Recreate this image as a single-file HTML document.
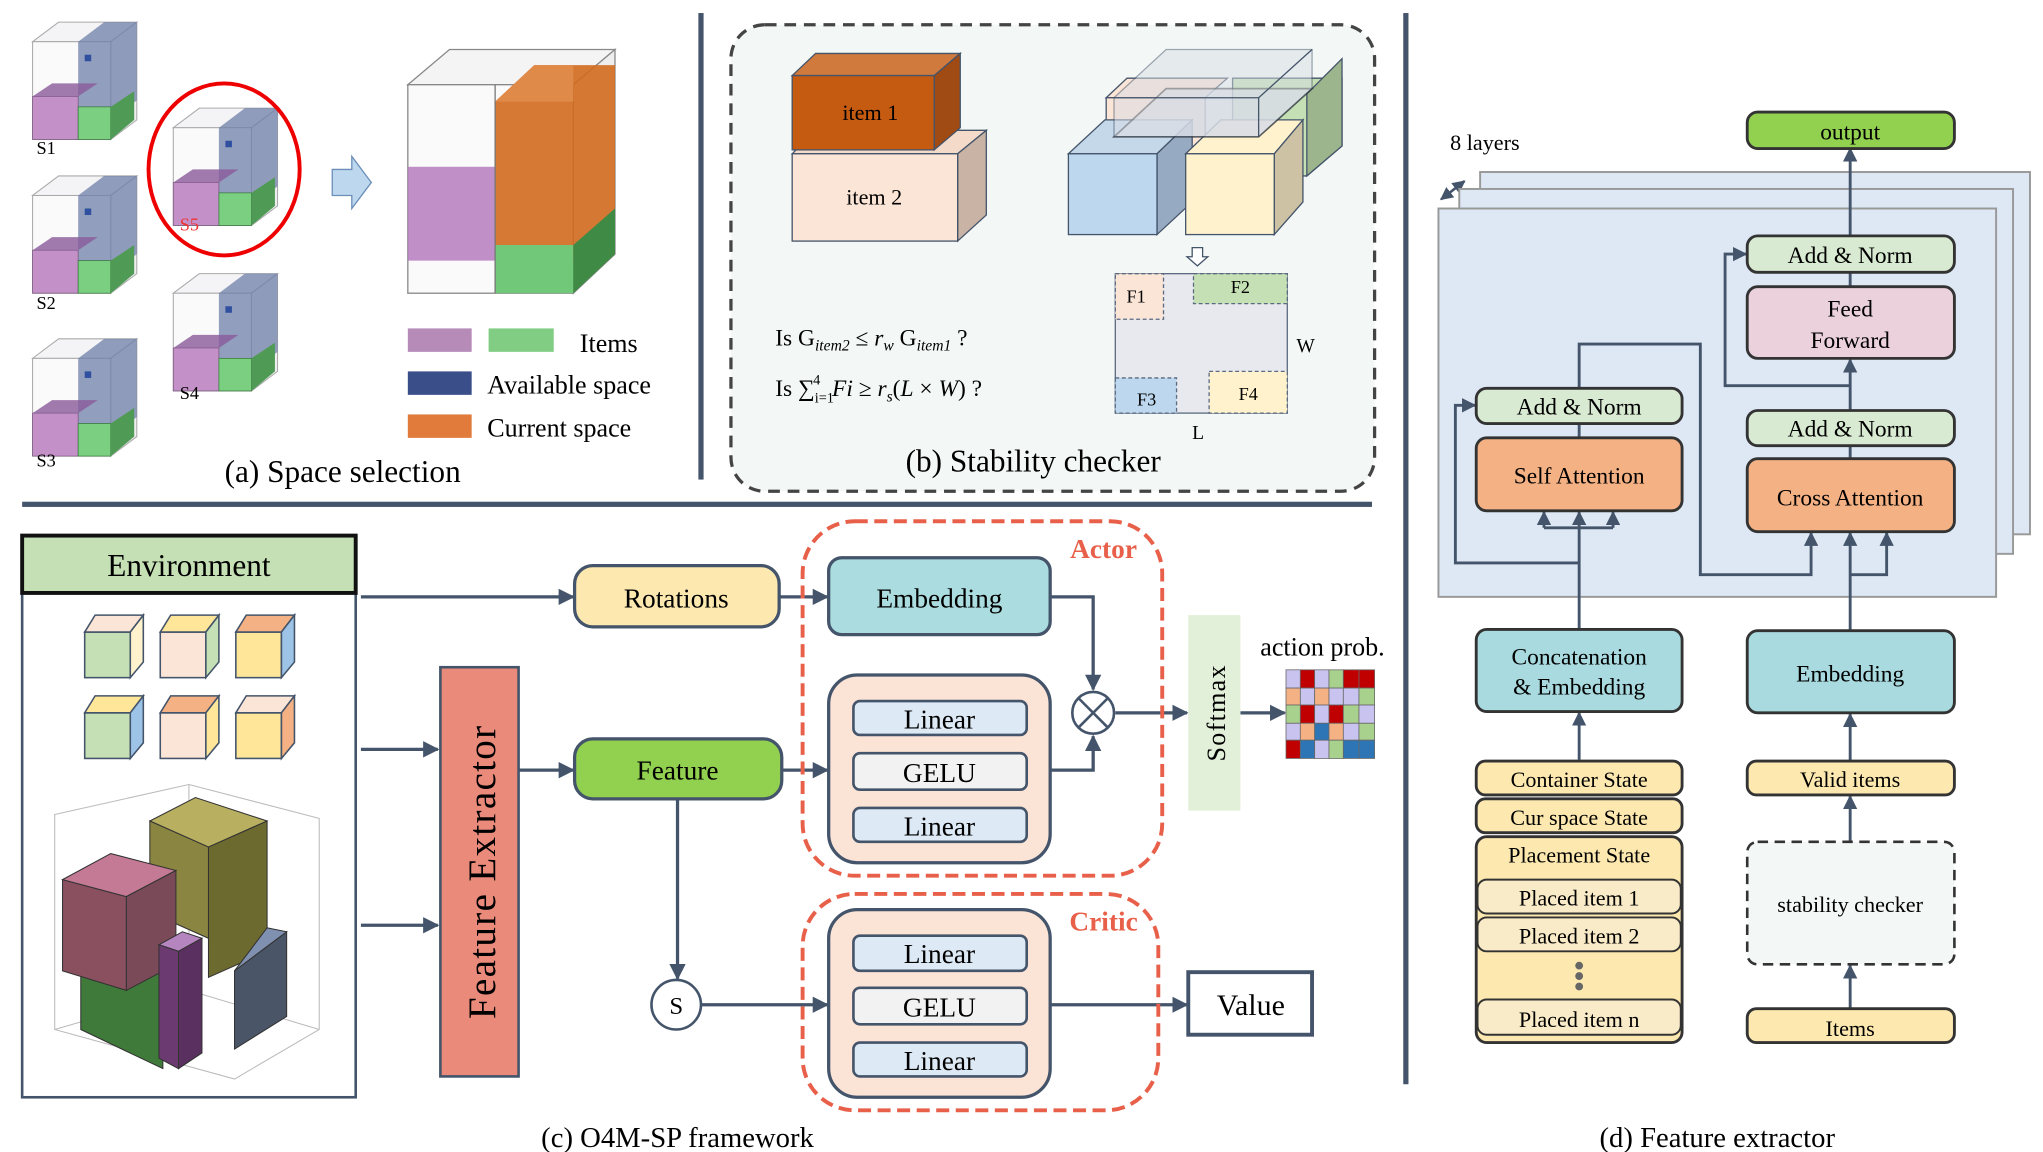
<!DOCTYPE html>
<html><head><meta charset="utf-8"><style>
html,body{margin:0;padding:0;background:#fff;}
svg{display:block;}
text{font-family:"Liberation Serif",serif;}
</style></head><body>
<svg width="2043" height="1152" viewBox="0 0 1568 884" preserveAspectRatio="none" xmlns="http://www.w3.org/2000/svg">
<defs>
<marker id="ar" viewBox="0 0 10 10" refX="9" refY="5" markerWidth="5" markerHeight="5" orient="auto-start-reverse"><path d="M0,0L10,5L0,10z" fill="#44546a"/></marker>
<g id="sc">
 <polygon points="0,20 20,5 80,5 60,20" fill="#f4f4f6" stroke="#aaa" stroke-width="0.8"/>
 <polygon points="60,20 80,5 80,80 60,95" fill="#eee" stroke="#aaa" stroke-width="0.8"/>
 <rect x="0" y="20" width="60" height="75" fill="#fafafa" stroke="#aaa" stroke-width="0.8"/>
 <polygon points="35,20 55,5 80,5 80,65 60,80 35,80" fill="#6f7fa8" opacity="0.75"/>
 <rect x="0" y="62" width="35" height="33" fill="#c490c8" stroke="#7a5a80" stroke-width="0.6"/>
 <polygon points="0,62 15,52 50,52 35,62" fill="#8a5a9a" opacity="0.8"/>
 <rect x="35" y="70" width="25" height="25" fill="#7bcf80" stroke="#3a7a40" stroke-width="0.6"/>
 <polygon points="60,70 78,58 78,80 60,95" fill="#4f9a55"/>
 <rect x="40" y="30" width="5" height="5" fill="#2f4f9f"/>
</g>
</defs>

<rect x="536" y="10" width="4" height="358" fill="#44546a"/>
<rect x="17" y="385" width="1036" height="4" fill="#44546a"/>
<rect x="1077" y="10" width="4" height="822" fill="#44546a"/>

<!-- (a) -->
<use href="#sc" x="25" y="12"/>
<use href="#sc" x="25" y="130"/>
<use href="#sc" x="25" y="255"/>
<use href="#sc" x="133" y="78"/>
<use href="#sc" x="133" y="205"/>
<text x="28" y="118" font-size="14">S1</text>
<text x="28" y="237" font-size="14">S2</text>
<text x="28" y="358" font-size="14">S3</text>
<text x="138" y="306" font-size="14">S4</text>
<text x="138" y="177" font-size="14" fill="#e33">S5</text>
<ellipse cx="172" cy="130" rx="58" ry="66" fill="none" stroke="#e00" stroke-width="3"/>
<polygon points="255,130 270,130 270,120 285,140 270,160 270,150 255,150" fill="#bdd7ee" stroke="#6b8fb8" stroke-width="1"/>
<polygon points="313,65 345,38 472,38 440,65" fill="#f4f4f4" stroke="#888"/>
<polygon points="440,65 472,38 472,195 440,225" fill="#eee" stroke="#888"/>
<rect x="313" y="65" width="127" height="160" fill="#fafafa" stroke="#888"/>
<polygon points="380,78 410,50 472,50 472,175 440,200 380,200" fill="#d06a1e" opacity="0.9"/>
<polygon points="380,78 410,50 440,50 440,78" fill="#e08a4a"/>
<rect x="313" y="128" width="67" height="72" fill="#b67bbd" opacity="0.85"/>
<rect x="380" y="188" width="60" height="37" fill="#70c878"/>
<polygon points="440,188 472,160 472,195 440,225" fill="#3f8a45"/>
<line x1="380" y1="65" x2="380" y2="225" stroke="#777"/>
<rect x="313" y="252" width="49" height="18" fill="#b68bb8"/>
<rect x="375" y="252" width="50" height="18" fill="#82cd84"/>
<text x="445" y="270" font-size="20">Items</text>
<rect x="313" y="285" width="49" height="18" fill="#3a4f8a"/>
<text x="374" y="302" font-size="20">Available space</text>
<rect x="313" y="318" width="49" height="18" fill="#e07b3c"/>
<text x="374" y="335" font-size="20">Current space</text>
<text x="263" y="370" font-size="24" text-anchor="middle">(a) Space selection</text>

<!-- (b) -->
<rect x="561" y="19" width="494" height="358" rx="26" fill="#f3f8f6" stroke="#444" stroke-width="2.5" stroke-dasharray="9,6"/>
<polygon points="608,118 626,100 757,100 735,118" fill="#f3dac9" stroke="#44546a"/>
<polygon points="735,118 757,100 757,165 735,185" fill="#c9b3a4" stroke="#44546a"/>
<rect x="608" y="118" width="127" height="67" fill="#fbe5d6" stroke="#44546a"/>
<polygon points="608,58 626,41 737,41 717,58" fill="#d07a3e" stroke="#44546a"/>
<polygon points="717,58 737,41 737,98 717,115" fill="#a04a14" stroke="#44546a"/>
<rect x="608" y="58" width="109" height="57" fill="#c55a11" stroke="#44546a"/>
<text x="668" y="92" font-size="17" text-anchor="middle">item 1</text>
<text x="671" y="157" font-size="17" text-anchor="middle">item 2</text>
<polygon points="849,75 865,60 942,60 925,75" fill="#fbe5d6" stroke="#44546a"/>
<rect x="849" y="75" width="76" height="50" fill="#fbe5d6" stroke="#44546a"/>
<polygon points="946,102 946,60 1030,60 1030,112 1003,135 983,135" fill="#c5e0b4" stroke="#44546a"/>
<polygon points="1003,72 1030,45 1030,112 1003,135" fill="#9db58d" stroke="#44546a"/>
<polygon points="820,118 848,92 915,92 888,118" fill="#c5d8ea" stroke="#44546a"/>
<polygon points="888,118 915,92 915,155 888,180" fill="#96abc2" stroke="#44546a"/>
<rect x="820" y="118" width="68" height="62" fill="#bdd7ee" stroke="#44546a"/>
<polygon points="910,118 937,92 1000,92 978,118" fill="#fff2cc" stroke="#44546a"/>
<polygon points="978,118 1000,92 1000,155 978,180" fill="#cdc3a4" stroke="#44546a"/>
<rect x="910" y="118" width="68" height="62" fill="#fff2cc" stroke="#44546a"/>
<polygon points="855,105 895,68 1007,68 966,105" fill="#d8dde6" opacity="0.7" stroke="#222" stroke-width="1.3"/>
<polygon points="855,75 895,38 1007,38 1007,68 966,105 855,105" fill="#d8dde6" opacity="0.5" stroke="#44546a"/>
<line x1="855" y1="75" x2="966" y2="75" stroke="#44546a"/>
<line x1="966" y1="75" x2="1007" y2="38" stroke="#44546a"/>
<line x1="966" y1="75" x2="966" y2="105" stroke="#44546a"/>
<polygon points="915,190 923,190 923,197 927,197 919,204 911,197 915,197" fill="#fff" stroke="#44546a"/>
<rect x="856" y="210" width="132" height="107" fill="#e7e9ef" stroke="#5a6a80"/>
<rect x="856" y="210" width="37" height="35" fill="#fbe5d6" stroke="#5a6a80" stroke-dasharray="3,2"/>
<rect x="916" y="210" width="72" height="23" fill="#c5e0b4" stroke="#5a6a80" stroke-dasharray="3,2"/>
<rect x="856" y="290" width="47" height="27" fill="#bdd7ee" stroke="#5a6a80" stroke-dasharray="3,2"/>
<rect x="928" y="285" width="60" height="32" fill="#fff2cc" stroke="#5a6a80" stroke-dasharray="3,2"/>
<text x="872" y="232" font-size="14" text-anchor="middle">F1</text>
<text x="952" y="225" font-size="14" text-anchor="middle">F2</text>
<text x="880" y="311" font-size="14" text-anchor="middle">F3</text>
<text x="958" y="307" font-size="14" text-anchor="middle">F4</text>
<text x="995" y="270" font-size="15">W</text>
<text x="915" y="337" font-size="15">L</text>
<text x="595" y="265" font-size="18">Is G<tspan font-size="12" dy="4" font-style="italic">item2</tspan><tspan dy="-4"> ≤ </tspan><tspan font-style="italic">r</tspan><tspan font-size="12" dy="4" font-style="italic">w</tspan><tspan dy="-4"> G</tspan><tspan font-size="12" dy="4" font-style="italic">item1</tspan><tspan dy="-4"> ?</tspan></text>
<text x="595" y="304" font-size="18">Is ∑<tspan font-size="11" dy="5">i=1</tspan><tspan font-size="11" dx="-16" dy="-14">4</tspan><tspan dy="9" dx="9" font-style="italic">Fi</tspan> ≥ <tspan font-style="italic">r</tspan><tspan font-size="12" dy="4" font-style="italic">s</tspan><tspan dy="-4">(</tspan><tspan font-style="italic">L</tspan> × <tspan font-style="italic">W</tspan>) ?</text>
<text x="793" y="362" font-size="24" text-anchor="middle">(b) Stability checker</text>

<!-- (c) -->
<rect x="17" y="455" width="256" height="387" fill="#fff" stroke="#44546a" stroke-width="2"/>
<rect x="17" y="411" width="256" height="44" fill="#c5e0b4" stroke="#111" stroke-width="3"/>
<text x="145" y="442" font-size="24" text-anchor="middle">Environment</text>
<g stroke="#44546a" stroke-width="1.2">
 <rect x="65" y="485" width="35" height="35" fill="#c5e0b4"/><polygon points="65,485 73,472 110,472 100,485" fill="#fbe5d6"/><polygon points="100,485 110,472 110,508 100,520" fill="#fff2cc"/>
 <rect x="123" y="485" width="35" height="35" fill="#fbe5d6"/><polygon points="123,485 131,472 168,472 158,485" fill="#ffe699"/><polygon points="158,485 168,472 168,508 158,520" fill="#c5e0b4"/>
 <rect x="181" y="485" width="35" height="35" fill="#ffe699"/><polygon points="181,485 189,472 226,472 216,485" fill="#f4b183"/><polygon points="216,485 226,472 226,508 216,520" fill="#9dc3e6"/>
 <rect x="65" y="547" width="35" height="35" fill="#c5e0b4"/><polygon points="65,547 73,534 110,534 100,547" fill="#ffe699"/><polygon points="100,547 110,534 110,570 100,582" fill="#9dc3e6"/>
 <rect x="123" y="547" width="35" height="35" fill="#fbe5d6"/><polygon points="123,547 131,534 168,534 158,547" fill="#f4b183"/><polygon points="158,547 168,534 168,570 158,582" fill="#ffe699"/>
 <rect x="181" y="547" width="35" height="35" fill="#ffe699"/><polygon points="181,547 189,534 226,534 216,547" fill="#fbe5d6"/><polygon points="216,547 226,534 226,570 216,582" fill="#f4b183"/>
</g>
<g stroke="#bbb" stroke-width="0.8" fill="none">
 <polygon points="42,625 145,602 245,628 245,790 180,828 42,790"/>
 <line x1="145" y1="602" x2="145" y2="760"/>
 <line x1="42" y1="790" x2="145" y2="760"/><line x1="145" y1="760" x2="245" y2="790"/>
</g>
<g stroke="#333" stroke-width="0.8">
 <polygon points="115,630 150,612 205,630 160,650" fill="#b8b060"/>
 <polygon points="160,650 205,630 205,730 160,750" fill="#6d6a30"/>
 <polygon points="115,630 160,650 160,720 115,700" fill="#8a8540"/>
 <polygon points="62,720 125,735 125,820 62,790" fill="#3f7a3a"/>
 <polygon points="48,675 97,688 97,760 48,745" fill="#8a5060"/>
 <polygon points="48,675 85,655 135,668 97,688" fill="#c47a94"/>
 <polygon points="97,688 135,668 135,740 97,760" fill="#7a4a58"/>
 <polygon points="180,745 220,715 220,780 180,805" fill="#4a5568"/>
 <polygon points="180,745 200,730 220,715 205,712" fill="#7f90b0"/>
 <polygon points="122,725 140,715 155,720 137,730" fill="#b585c0"/>
 <polygon points="122,725 137,730 137,820 122,812" fill="#6a3a70"/>
 <polygon points="137,730 155,720 155,808 137,820" fill="#5a3060"/>
</g>
<g stroke="#44546a" stroke-width="2.5" fill="none" marker-end="url(#ar)">
 <line x1="277" y1="458" x2="440" y2="458"/>
 <line x1="277" y1="575" x2="336" y2="575"/>
 <line x1="277" y1="710" x2="336" y2="710"/>
 <line x1="398" y1="591" x2="440" y2="591"/>
 <line x1="598" y1="458" x2="635" y2="458"/>
 <line x1="600" y1="591" x2="635" y2="591"/>
 <polyline points="806,458 839,458 839,529"/>
 <polyline points="806,591 839,591 839,565"/>
 <line x1="856" y1="547" x2="911" y2="547"/>
 <line x1="952" y1="547" x2="986" y2="547"/>
 <line x1="520" y1="613" x2="520" y2="751"/>
 <line x1="538" y1="771" x2="635" y2="771"/>
 <line x1="806" y1="771" x2="911" y2="771"/>
 <line x1="721" y1="578" x2="721" y2="565"/>
 <line x1="721" y1="620" x2="721" y2="607"/>
 <line x1="721" y1="758" x2="721" y2="745"/>
 <line x1="721" y1="800" x2="721" y2="787"/>
</g>
<rect x="338" y="512" width="60" height="314" fill="#ea8a7b" stroke="#44546a" stroke-width="2"/>
<text transform="translate(380,669) rotate(-90)" font-size="30" text-anchor="middle" letter-spacing="1">Feature Extractor</text>
<rect x="441" y="434" width="157" height="47" rx="14" fill="#fde9b0" stroke="#44546a" stroke-width="2.5"/>
<text x="519" y="466" font-size="21" text-anchor="middle">Rotations</text>
<rect x="441" y="567" width="159" height="46" rx="14" fill="#92d050" stroke="#44546a" stroke-width="2.5"/>
<text x="520" y="598" font-size="21" text-anchor="middle">Feature</text>
<rect x="616" y="400" width="276" height="272" rx="40" fill="none" stroke="#e8604a" stroke-width="3" stroke-dasharray="10,5"/>
<text x="847" y="428" font-size="21" font-weight="bold" fill="#e8604a" text-anchor="middle">Actor</text>
<rect x="636" y="428" width="170" height="59" rx="10" fill="#abdde0" stroke="#44546a" stroke-width="2.5"/>
<text x="721" y="466" font-size="21" text-anchor="middle">Embedding</text>
<rect x="636" y="518" width="170" height="144" rx="22" fill="#fbe3d6" stroke="#44546a" stroke-width="2.5"/>
<rect x="655" y="538" width="133" height="26" rx="5" fill="#dde9f5" stroke="#44546a" stroke-width="2"/>
<text x="721" y="559" font-size="21" text-anchor="middle">Linear</text>
<rect x="655" y="578" width="133" height="28" rx="5" fill="#f2f2f2" stroke="#44546a" stroke-width="2"/>
<text x="721" y="600" font-size="21" text-anchor="middle">GELU</text>
<rect x="655" y="620" width="133" height="26" rx="5" fill="#dde9f5" stroke="#44546a" stroke-width="2"/>
<text x="721" y="641" font-size="21" text-anchor="middle">Linear</text>
<circle cx="839" cy="547" r="16" fill="#fff" stroke="#44546a" stroke-width="2"/>
<line x1="828" y1="536" x2="850" y2="558" stroke="#44546a" stroke-width="2"/>
<line x1="850" y1="536" x2="828" y2="558" stroke="#44546a" stroke-width="2"/>
<rect x="912" y="472" width="40" height="150" fill="#e2f0d9"/>
<text transform="translate(940,547) rotate(-90)" font-size="20" text-anchor="middle" letter-spacing="1">Softmax</text>
<text x="1015" y="503" font-size="20" text-anchor="middle">action prob.</text>
<g stroke="#666" stroke-width="0.6">
<rect x="987" y="514" width="11" height="14" fill="#c9c3ef"/><rect x="998" y="514" width="11" height="14" fill="#c00000"/><rect x="1009" y="514" width="11" height="14" fill="#c9c3ef"/><rect x="1020" y="514" width="11" height="14" fill="#a9d18e"/><rect x="1031" y="514" width="12" height="14" fill="#c00000"/><rect x="1043" y="514" width="12" height="14" fill="#c00000"/>
<rect x="987" y="528" width="11" height="13" fill="#f4b183"/><rect x="998" y="528" width="11" height="13" fill="#c9c3ef"/><rect x="1009" y="528" width="11" height="13" fill="#f4b183"/><rect x="1020" y="528" width="11" height="13" fill="#c9c3ef"/><rect x="1031" y="528" width="12" height="13" fill="#c9c3ef"/><rect x="1043" y="528" width="12" height="13" fill="#a9d18e"/>
<rect x="987" y="541" width="11" height="14" fill="#a9d18e"/><rect x="998" y="541" width="11" height="14" fill="#c00000"/><rect x="1009" y="541" width="11" height="14" fill="#c9c3ef"/><rect x="1020" y="541" width="11" height="14" fill="#c00000"/><rect x="1031" y="541" width="12" height="14" fill="#a9d18e"/><rect x="1043" y="541" width="12" height="14" fill="#c9c3ef"/>
<rect x="987" y="555" width="11" height="13" fill="#c9c3ef"/><rect x="998" y="555" width="11" height="13" fill="#f4b183"/><rect x="1009" y="555" width="11" height="13" fill="#2e75b6"/><rect x="1020" y="555" width="11" height="13" fill="#f4b183"/><rect x="1031" y="555" width="12" height="13" fill="#c9c3ef"/><rect x="1043" y="555" width="12" height="13" fill="#a9d18e"/>
<rect x="987" y="568" width="11" height="14" fill="#c00000"/><rect x="998" y="568" width="11" height="14" fill="#2e75b6"/><rect x="1009" y="568" width="11" height="14" fill="#c9c3ef"/><rect x="1020" y="568" width="11" height="14" fill="#a9d18e"/><rect x="1031" y="568" width="12" height="14" fill="#2e75b6"/><rect x="1043" y="568" width="12" height="14" fill="#2e75b6"/>
</g>
<circle cx="519" cy="771" r="19" fill="#fff" stroke="#44546a" stroke-width="2"/>
<text x="519" y="778" font-size="19" text-anchor="middle">S</text>
<rect x="616" y="686" width="273" height="166" rx="40" fill="none" stroke="#e8604a" stroke-width="3" stroke-dasharray="10,5"/>
<text x="847" y="714" font-size="21" font-weight="bold" fill="#e8604a" text-anchor="middle">Critic</text>
<rect x="636" y="698" width="170" height="144" rx="22" fill="#fbe3d6" stroke="#44546a" stroke-width="2.5"/>
<rect x="655" y="718" width="133" height="27" rx="5" fill="#dde9f5" stroke="#44546a" stroke-width="2"/>
<text x="721" y="739" font-size="21" text-anchor="middle">Linear</text>
<rect x="655" y="758" width="133" height="28" rx="5" fill="#f2f2f2" stroke="#44546a" stroke-width="2"/>
<text x="721" y="780" font-size="21" text-anchor="middle">GELU</text>
<rect x="655" y="800" width="133" height="26" rx="5" fill="#dde9f5" stroke="#44546a" stroke-width="2"/>
<text x="721" y="821" font-size="21" text-anchor="middle">Linear</text>
<rect x="912" y="746" width="95" height="48" fill="#fff" stroke="#44546a" stroke-width="3"/>
<text x="960" y="779" font-size="23" text-anchor="middle">Value</text>
<text x="520" y="880" font-size="22" text-anchor="middle">(c) O4M-SP framework</text>

<!-- (d) -->
<text x="1113" y="115" font-size="17">8 layers</text>
<line x1="1106" y1="153" x2="1124" y2="139" stroke="#44546a" stroke-width="2" marker-end="url(#ar)" marker-start="url(#ar)"/>
<rect x="1136" y="132" width="422" height="278" fill="#dde8f4" stroke="#999" stroke-width="1.5"/>
<rect x="1120" y="145" width="425" height="280" fill="#dde8f4" stroke="#999" stroke-width="1.5"/>
<rect x="1104" y="160" width="428" height="298" fill="#dde8f4" stroke="#999" stroke-width="1.5"/>
<g stroke="#44546a" stroke-width="2.2" fill="none">
 <line x1="1212" y1="483" x2="1212" y2="393" marker-end="url(#ar)"/>
 <polyline points="1185,405 1185,393" marker-end="url(#ar)"/>
 <polyline points="1238,405 1238,393" marker-end="url(#ar)"/>
 <line x1="1185" y1="405" x2="1238" y2="405"/>
 <polyline points="1212,432 1117,432 1117,311 1132,311" marker-end="url(#ar)"/>
 <polyline points="1212,298 1212,264 1305,264 1305,441 1390,441 1390,409" marker-end="url(#ar)"/>
 <line x1="1212" y1="336" x2="1212" y2="325"/>
 <line x1="1420" y1="484" x2="1420" y2="409" marker-end="url(#ar)"/>
 <polyline points="1420,441 1448,441 1448,409" marker-end="url(#ar)"/>
 <line x1="1420" y1="352" x2="1420" y2="342"/>
 <line x1="1420" y1="315" x2="1420" y2="276" marker-end="url(#ar)"/>
 <polyline points="1420,296 1324,296 1324,195 1340,195" marker-end="url(#ar)"/>
 <line x1="1420" y1="220" x2="1420" y2="209"/>
 <line x1="1420" y1="181" x2="1420" y2="114" marker-end="url(#ar)"/>
 <line x1="1212" y1="583" x2="1212" y2="547" marker-end="url(#ar)"/>
 <line x1="1420" y1="584" x2="1420" y2="548" marker-end="url(#ar)"/>
 <line x1="1420" y1="646" x2="1420" y2="611" marker-end="url(#ar)"/>
 <line x1="1420" y1="774" x2="1420" y2="741" marker-end="url(#ar)"/>
</g>
<g stroke="#333" stroke-width="2.2">
<rect x="1341" y="86" width="159" height="28" rx="8" fill="#92d050"/>
<rect x="1341" y="181" width="159" height="28" rx="8" fill="#d9ead3"/>
<rect x="1341" y="220" width="159" height="55" rx="8" fill="#ead1dc"/>
<rect x="1341" y="315" width="159" height="27" rx="8" fill="#d9ead3"/>
<rect x="1341" y="352" width="159" height="56" rx="8" fill="#f4b183"/>
<rect x="1133" y="298" width="158" height="27" rx="8" fill="#d9ead3"/>
<rect x="1133" y="336" width="158" height="56" rx="8" fill="#f4b183"/>
<rect x="1133" y="483" width="158" height="63" rx="8" fill="#a9dadf"/>
<rect x="1341" y="484" width="159" height="63" rx="8" fill="#a9dadf"/>
<rect x="1133" y="584" width="158" height="26" rx="7" fill="#fde9b0"/>
<rect x="1133" y="613" width="158" height="26" rx="7" fill="#fde9b0"/>
<rect x="1133" y="642" width="158" height="158" rx="8" fill="#fde9b0"/>
<rect x="1341" y="584" width="159" height="26" rx="7" fill="#fde9b0"/>
<rect x="1341" y="774" width="159" height="26" rx="7" fill="#fde9b0"/>
</g>
<g stroke="#333" stroke-width="1.5" fill="#faebc8">
<rect x="1134" y="675" width="156" height="26" rx="7"/>
<rect x="1134" y="704" width="156" height="26" rx="7"/>
<rect x="1134" y="767" width="156" height="27" rx="7"/>
</g>
<rect x="1341" y="646" width="159" height="94" rx="8" fill="#f3f8f6" stroke="#333" stroke-width="2" stroke-dasharray="8,5"/>
<g fill="#666"><circle cx="1212" cy="741" r="3"/><circle cx="1212" cy="749" r="3"/><circle cx="1212" cy="757" r="3"/></g>
<g font-size="18" text-anchor="middle">
<text x="1420" y="107">output</text>
<text x="1420" y="202">Add &amp; Norm</text>
<text x="1420" y="243">Feed</text>
<text x="1420" y="267">Forward</text>
<text x="1420" y="335">Add &amp; Norm</text>
<text x="1420" y="388">Cross Attention</text>
<text x="1212" y="318">Add &amp; Norm</text>
<text x="1212" y="371">Self Attention</text>
<text x="1212" y="510">Concatenation</text>
<text x="1212" y="533">&amp; Embedding</text>
<text x="1420" y="523">Embedding</text>
<text x="1212" y="604" font-size="17">Container State</text>
<text x="1212" y="633" font-size="17">Cur space State</text>
<text x="1212" y="662" font-size="17">Placement State</text>
<text x="1212" y="695" font-size="17">Placed item 1</text>
<text x="1212" y="724" font-size="17">Placed item 2</text>
<text x="1212" y="788" font-size="17">Placed item n</text>
<text x="1420" y="604" font-size="17">Valid items</text>
<text x="1420" y="700" font-size="17">stability checker</text>
<text x="1420" y="795" font-size="17">Items</text>
</g>
<text x="1318" y="880" font-size="22" text-anchor="middle">(d) Feature extractor</text>
</svg>
</body></html>
